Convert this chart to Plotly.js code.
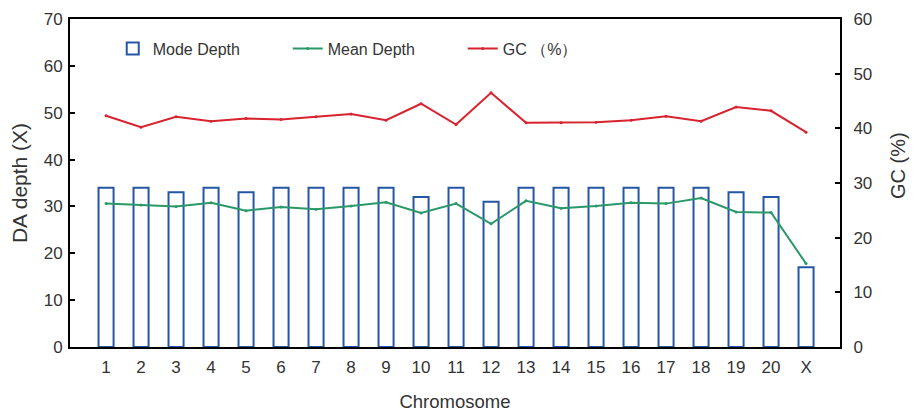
<!DOCTYPE html>
<html>
<head>
<meta charset="utf-8">
<script src="https://cdn.plot.ly/plotly-3.0.1.min.js"></script>
<style>html,body{margin:0;padding:0;background:#fff;}#chart{width:914px;height:415px;}</style>
</head>
<body>
<div id="chart"></div>
<script>
const chromosomes = ["1","2","3","4","5","6","7","8","9","10","11","12","13","14","15","16","17","18","19","20","X"];
const modeDepth = [34,34,33,34,33,34,34,34,34,32,34,31,34,34,34,34,34,34,33,32,17];
const meanDepth = [30.6,30.3,30.0,30.8,29.1,29.9,29.4,30.1,30.9,28.6,30.6,26.3,31.2,29.6,30.1,30.8,30.6,31.8,28.8,28.7,17.8];
const gcPercent = [42.3,40.2,42.1,41.3,41.8,41.6,42.1,42.6,41.5,44.5,40.7,46.5,41.0,41.0,41.1,41.5,42.2,41.3,43.9,43.2,39.3];

const FONT = "Liberation Sans, Arial, sans-serif";
const TXT = "#333";
const traces = [
  {
    type: "bar", name: "Mode Depth", x: chromosomes, y: modeDepth,
    width: 0.43,
    marker: {color: "rgba(255,255,255,1)", line: {color: "#2556a3", width: 2}},
    yaxis: "y"
  },
  {
    type: "scatter", mode: "lines+markers", name: "Mean Depth", x: chromosomes, y: meanDepth,
    line: {color: "#2a9868", width: 2}, marker: {size: 3, color: "#2a9868"},
    yaxis: "y"
  },
  {
    type: "scatter", mode: "lines+markers", name: "GC （%）", x: chromosomes, y: gcPercent,
    line: {color: "#d8232f", width: 2}, marker: {size: 3, color: "#d8232f"},
    yaxis: "y2"
  }
];

const layout = {
  width: 914, height: 415,
  margin: {l: 70, r: 74, t: 19, b: 68},
  paper_bgcolor: "#fff", plot_bgcolor: "#fff",
  font: {family: FONT, color: TXT, size: 17},
  showlegend: true,
  legend: {
    orientation: "h", x: 0.0555, y: 0.91, xanchor: "left", yanchor: "middle",
    entrywidth: 130, entrywidthmode: "pixels",
    font: {family: FONT, size: 16, color: TXT},
    bgcolor: "rgba(0,0,0,0)", traceorder: "normal"
  },
  xaxis: {
    type: "category", range: [-1.03, 20.97],
    showline: true, linecolor: "#000", linewidth: 2, mirror: true,
    ticks: "", showgrid: false, zeroline: false, ticklabelstandoff: 4,
    tickfont: {family: FONT, size: 17, color: TXT},
    title: {text: "Chromosome", font: {family: FONT, size: 18.5, color: TXT}, standoff: 19},
    automargin: false
  },
  yaxis: {
    range: [0, 70], dtick: 10,
    showline: true, linecolor: "#000", linewidth: 2,
    ticks: "inside", ticklen: 5, tickcolor: "#000", tickwidth: 2,
    showgrid: false, zeroline: false, ticklabelstandoff: 2,
    tickfont: {family: FONT, size: 17, color: TXT},
    title: {text: "DA depth (X)", font: {family: FONT, size: 21, color: TXT}, standoff: 10},
    automargin: false
  },
  yaxis2: {
    range: [0, 60], dtick: 10, overlaying: "y", side: "right",
    showline: true, linecolor: "#000", linewidth: 2,
    ticks: "inside", ticklen: 5, tickcolor: "#000", tickwidth: 2,
    showgrid: false, zeroline: false, ticklabelstandoff: 8,
    tickfont: {family: FONT, size: 17, color: TXT},
    automargin: false
  },
  annotations: [
    {text: "GC (%)", xref: "paper", yref: "paper", x: 1, xshift: 58, y: 0.552,
     xanchor: "center", yanchor: "middle", textangle: -90, showarrow: false,
     font: {family: FONT, size: 20, color: TXT}}
  ]
};

Plotly.newPlot("chart", traces, layout, {displayModeBar: false, staticPlot: true});
</script>
</body>
</html>
